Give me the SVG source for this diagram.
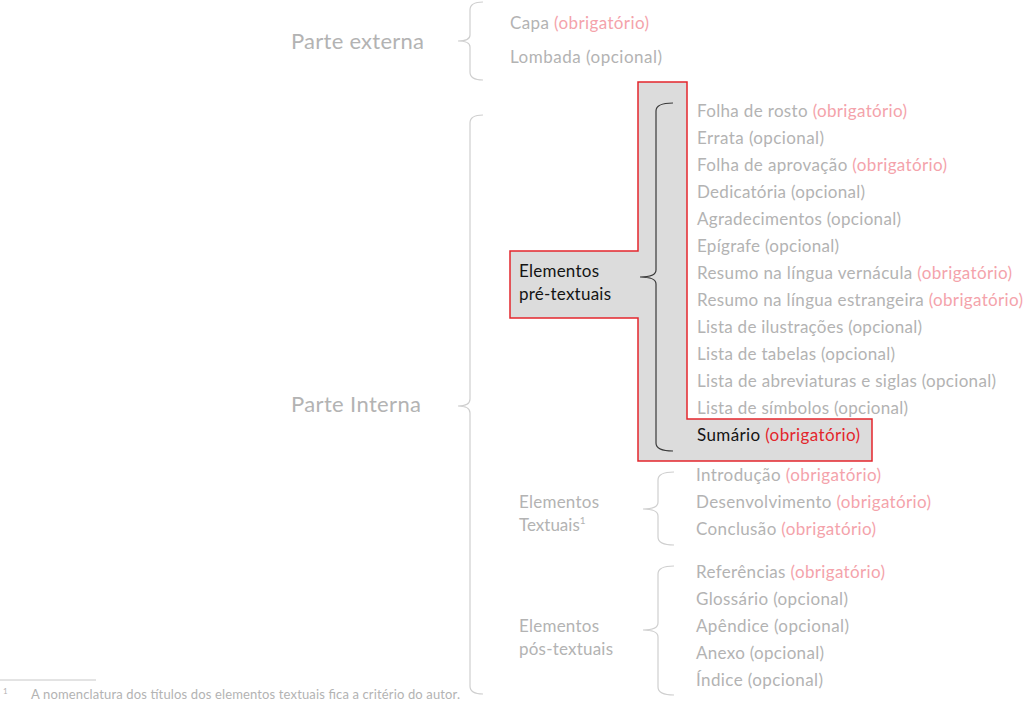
<svg xmlns="http://www.w3.org/2000/svg" width="1024" height="701" viewBox="0 0 1024 701">
<style>
text{font-family:Lato,"Open Sans","Liberation Sans",sans-serif;font-size:17px;fill:#b3b3b3}
.big{font-size:22px}
.ob{fill:#f4a3ab}
.blk{fill:#141414}
.red{fill:#e3262c}
.br{fill:none;stroke:#cfcfcf;stroke-width:1.2}
.brd{fill:none;stroke:#3a3a3a;stroke-width:1.2}
.fn{font-size:13px}
.fnum{font-size:8px}
</style>
<rect width="1024" height="701" fill="#ffffff"/>
<g id="highlight">
<path d="M638,82 H687 V419 H872 V461 H638 V318 H510 V251 H638 Z" fill="#dcdcdc" stroke="#e3262c" stroke-width="1.5"/>
</g>
<g id="connectors">
<path class="br" d="M483,2 Q470,2 470,10 L470,35 Q470,41 458,41 Q470,41 470,47 L470,72 Q470,80 483,80"/>
<path class="br" d="M483,115 Q470,115 470,123 L470,399 Q470,406 458,406 Q470,406 470,413 L470,686 Q470,694 483,694"/>
<path class="brd" d="M673,103 Q656,103 656,111 L656,270 Q656,277 640,277 Q656,277 656,284 L656,443 Q656,451 673,451"/>
<path class="br" d="M674,472 Q658,472 658,480 L658,502 Q658,509 643,509 Q658,509 658,516 L658,537 Q658,545 674,545"/>
<path class="br" d="M674,566 Q658,566 658,574 L658,623 Q658,630 643,630 Q658,630 658,637 L658,687 Q658,695 674,695"/>
</g>
<g id="parte-externa">
<text class="big" x="291" y="49" textLength="133">Parte externa</text>
</g>
<g id="externa-itens">
<text x="510" y="29" textLength="139">Capa <tspan class="ob">(obrigatório)</tspan></text>
<text x="510" y="63" textLength="152">Lombada (opcional)</text>
</g>
<g id="parte-interna">
<text class="big" x="291" y="412" textLength="130">Parte Interna</text>
</g>
<g id="pre-textuais">
<text class="blk" x="519" y="277" textLength="80">Elementos</text>
<text class="blk" x="519" y="300" textLength="92">pré-textuais</text>
</g>
<g id="pre-itens">
<text x="697" y="117" textLength="210">Folha de rosto <tspan class="ob">(obrigatório)</tspan></text>
<text x="697" y="144" textLength="127">Errata (opcional)</text>
<text x="697" y="171" textLength="250">Folha de aprovação <tspan class="ob">(obrigatório)</tspan></text>
<text x="697" y="198" textLength="168">Dedicatória (opcional)</text>
<text x="697" y="225" textLength="204">Agradecimentos (opcional)</text>
<text x="697" y="252" textLength="142">Epígrafe (opcional)</text>
<text x="697" y="279" textLength="315">Resumo na língua vernácula <tspan class="ob">(obrigatório)</tspan></text>
<text x="697" y="306" textLength="326">Resumo na língua estrangeira <tspan class="ob">(obrigatório)</tspan></text>
<text x="697" y="333" textLength="225">Lista de ilustrações (opcional)</text>
<text x="697" y="360" textLength="198">Lista de tabelas (opcional)</text>
<text x="697" y="387" textLength="299">Lista de abreviaturas e siglas (opcional)</text>
<text x="697" y="414" textLength="211">Lista de símbolos (opcional)</text>
<text class="blk" x="697" y="441" textLength="163">Sumário <tspan class="red">(obrigatório)</tspan></text>
</g>
<g id="textuais">
<text x="519" y="508" textLength="80">Elementos</text>
<text x="519" y="531">Textuais<tspan font-size="10" dy="-7">1</tspan></text>
</g>
<g id="textuais-itens">
<text x="696" y="481" textLength="185">Introdução <tspan class="ob">(obrigatório)</tspan></text>
<text x="696" y="508" textLength="235">Desenvolvimento <tspan class="ob">(obrigatório)</tspan></text>
<text x="696" y="535" textLength="180">Conclusão <tspan class="ob">(obrigatório)</tspan></text>
</g>
<g id="pos-textuais">
<text x="519" y="632" textLength="80">Elementos</text>
<text x="519" y="655" textLength="94">pós-textuais</text>
</g>
<g id="pos-itens">
<text x="696" y="578" textLength="189">Referências <tspan class="ob">(obrigatório)</tspan></text>
<text x="696" y="605" textLength="152">Glossário (opcional)</text>
<text x="696" y="632" textLength="153">Apêndice (opcional)</text>
<text x="696" y="659" textLength="128">Anexo (opcional)</text>
<text x="696" y="686" textLength="127">Índice (opcional)</text>
</g>
<g id="nota">
<line x1="0" y1="680" x2="96" y2="680" stroke="#c8c8c8" stroke-width="1"/>
<text class="fnum" x="3" y="694">1</text>
<text class="fn" x="31" y="699" textLength="429">A nomenclatura dos títulos dos elementos textuais fica a critério do autor.</text>
</g>
</svg>
